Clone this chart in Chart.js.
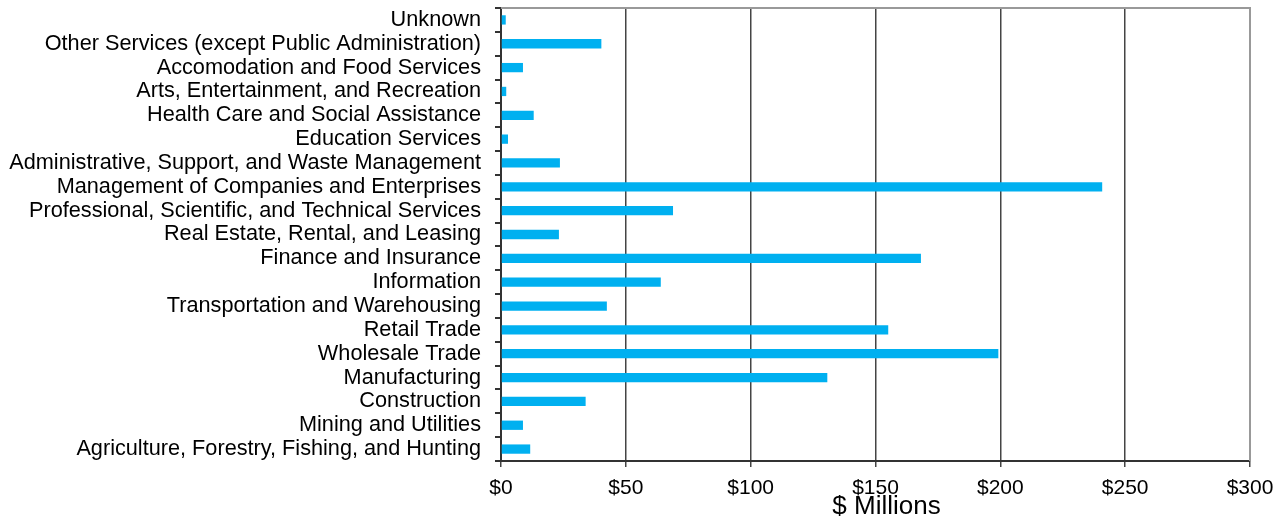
<!DOCTYPE html>
<html lang="en">
<head>
    <meta charset="UTF-8">
    <title>Industry Chart</title>
    <script src="https://cdn.jsdelivr.net/npm/chart.js"></script>
    <style>
        body {
            margin: 0;
            padding: 0;
            background: #ffffff;
        }
        .chart-container {
            position: relative;
            width: 1279px;
            height: 519px;
        }
    </style>
</head>
<body>
    <div class="chart-container">
        <canvas id="industryChart"></canvas>
    </div>

    <script>
        // industries, top to bottom as shown
        const industries = [
            'Unknown',
            'Other Services (except Public Administration)',
            'Accomodation and Food Services',
            'Arts, Entertainment, and Recreation',
            'Health Care and Social Assistance',
            'Education Services',
            'Administrative, Support, and Waste Management',
            'Management of Companies and Enterprises',
            'Professional, Scientific, and Technical Services',
            'Real Estate, Rental, and Leasing',
            'Finance and Insurance',
            'Information',
            'Transportation and Warehousing',
            'Retail Trade',
            'Wholesale Trade',
            'Manufacturing',
            'Construction',
            'Mining and Utilities',
            'Agriculture, Forestry, Fishing, and Hunting'
        ];

        // $ millions
        const amounts = [
            1.9, 40.2, 8.8, 2.1, 13.1, 2.8, 23.6, 240.8, 68.9, 23.2,
            168.2, 64.0, 42.4, 155.1, 199.2, 130.7, 33.9, 8.8, 11.7
        ];

        const xTicks = [0, 50, 100, 150, 200, 250, 300];
        const xTitle = '$ Millions';

        const FONT = 'Liberation Sans, Arial, sans-serif';

        // gray frame on top/right, plus the axis title (sits a bit right of centre)
        const framePlugin = {
            id: 'frame',
            afterDraw(chart) {
                const a = chart.chartArea;
                const ctx = chart.ctx;
                ctx.save();
                ctx.strokeStyle = '#999999';
                ctx.lineWidth = 2;
                ctx.beginPath();
                ctx.moveTo(a.left, a.top);
                ctx.lineTo(a.right, a.top);
                ctx.lineTo(a.right, a.bottom);
                ctx.stroke();

                ctx.fillStyle = '#000000';
                ctx.font = '26px ' + FONT;
                ctx.textAlign = 'center';
                ctx.textBaseline = 'middle';
                ctx.fillText(xTitle, (a.left + a.right) / 2 + 11, 507);
                ctx.restore();
            }
        };

        const ctx = document.getElementById('industryChart').getContext('2d');
        new Chart(ctx, {
            type: 'bar',
            data: {
                labels: industries,
                datasets: [{
                    data: amounts,
                    backgroundColor: '#00B0F0',
                    barPercentage: 0.39,
                    categoryPercentage: 1.0
                }]
            },
            options: {
                indexAxis: 'y',
                responsive: true,
                maintainAspectRatio: false,
                animation: false,
                layout: {
                    padding: { left: 0, right: 29, top: 8, bottom: 0 }
                },
                plugins: {
                    legend: { display: false },
                    tooltip: { enabled: false }
                },
                scales: {
                    x: {
                        min: 0,
                        max: 300,
                        afterBuildTicks: (scale) => {
                            scale.ticks = xTicks.map(v => ({ value: v }));
                        },
                        afterFit: (scale) => {
                            scale.height = 58;
                            scale.paddingLeft = 0;
                            scale.paddingRight = 0;
                        },
                        ticks: {
                            color: '#000000',
                            padding: 9,
                            maxRotation: 0,
                            font: { family: FONT, size: 21 },
                            callback: (v) => '$' + v
                        },
                        grid: {
                            color: '#444444',
                            lineWidth: 1.5,
                            tickLength: 6
                        },
                        border: { color: '#333333', width: 2 }
                    },
                    y: {
                        afterFit: (scale) => {
                            scale.width = 501;
                            scale.paddingTop = 0;
                            scale.paddingBottom = 0;
                        },
                        ticks: {
                            color: '#000000',
                            padding: 14,
                            autoSkip: false,
                            font: { family: FONT, size: 21.7 }
                        },
                        grid: {
                            offset: true,
                            drawOnChartArea: false,
                            drawTicks: true,
                            tickLength: 6,
                            color: '#333333',
                            lineWidth: 2
                        },
                        border: { color: '#333333', width: 2 }
                    }
                }
            },
            plugins: [framePlugin]
        });
    </script>
</body>
</html>
